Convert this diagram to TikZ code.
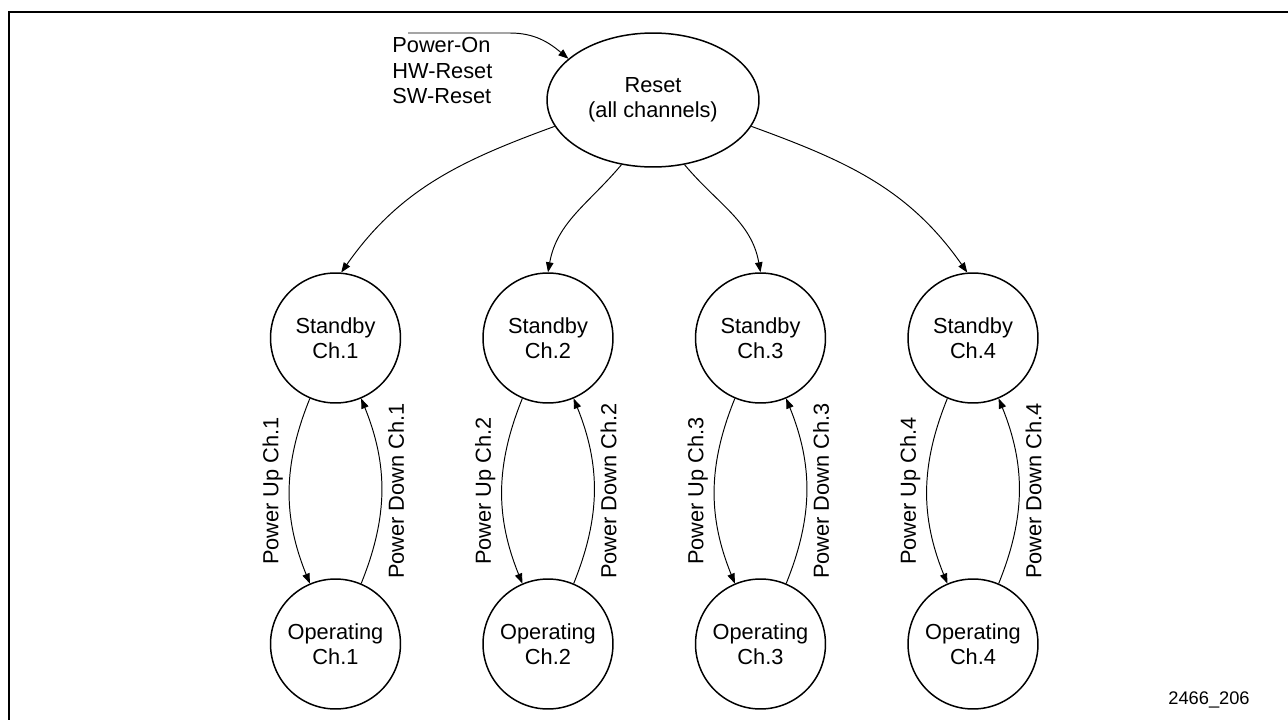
\documentclass[tikz,border=0pt]{standalone}
\usepackage{fontspec}
\setmainfont{Liberation Sans}
\usetikzlibrary{arrows.meta,shapes.geometric,positioning}

\begin{document}
\begin{tikzpicture}[x=0.02cm, y=-0.02cm, font=\fontsize{12.4}{14.5}\selectfont,
    state/.style={circle, draw, line width=0.85pt, minimum size=2.6cm, inner sep=0pt, align=center},
    trans/.style={-{Triangle[length=0.2cm, width=0.15cm]}, line width=0.55pt},
    lbl/.style={rotate=90, inner sep=3.5pt}]

    \useasboundingbox (0,0) rectangle (1288,720);
    \draw[line width=1.3pt] (9,720) -- (9,12) -- (1288,12);

    \node[ellipse, draw, line width=0.85pt, minimum width=4.24cm, minimum height=2.68cm, inner sep=0pt, align=center] (reset) at (653,100) {Reset\\(all channels)};

    \node[state] (stby1) at (335.5,338) {Standby\\Ch.1};
    \node[state] (stby2) at (548,338)   {Standby\\Ch.2};
    \node[state] (stby3) at (760.5,338) {Standby\\Ch.3};
    \node[state] (stby4) at (973,338)   {Standby\\Ch.4};

    \node[state] (oper1) at (335.5,644) {Operating\\Ch.1};
    \node[state] (oper2) at (548,644)   {Operating\\Ch.2};
    \node[state] (oper3) at (760.5,644) {Operating\\Ch.3};
    \node[state] (oper4) at (973,644)   {Operating\\Ch.4};

    % reset sources
    \node[align=left, anchor=north west, inner sep=0pt] (src) at (392,37) {Power-On\\HW-Reset\\SW-Reset};
    \coordinate (pwr) at (408,33);
    \coordinate (pwrbend) at (510,33);
    \draw[trans] (pwr) -- (pwrbend) to[out=0, in=140] (reset.154);

    % reset to standby
    \draw[trans] (reset.195) to[out=200, in=55]  (stby1.85);
    \draw[trans] (reset.244) to[out=230, in=80]  (stby2.90);
    \draw[trans] (reset.296) to[out=310, in=100] (stby3.90);
    \draw[trans] (reset.345) to[out=340, in=125] (stby4.95);

    % power up / power down
    \draw[trans] (stby1.247) to[bend right=22] node[lbl, above] {Power Up Ch.1} (oper1.113);
    \draw[trans] (oper1.67) to[bend right=22] node[lbl, below] {Power Down Ch.1} (stby1.293);

    \draw[trans] (stby2.247) to[bend right=22] node[lbl, above] {Power Up Ch.2} (oper2.113);
    \draw[trans] (oper2.67) to[bend right=22] node[lbl, below] {Power Down Ch.2} (stby2.293);

    \draw[trans] (stby3.247) to[bend right=22] node[lbl, above] {Power Up Ch.3} (oper3.113);
    \draw[trans] (oper3.67) to[bend right=22] node[lbl, below] {Power Down Ch.3} (stby3.293);

    \draw[trans] (stby4.247) to[bend right=22] node[lbl, above] {Power Up Ch.4} (oper4.113);
    \draw[trans] (oper4.67) to[bend right=22] node[lbl, below] {Power Down Ch.4} (stby4.293);

    \node[font=\fontsize{10.4}{12}\selectfont] (fignum) at (1209,700) {2466\_206};
\end{tikzpicture}
\end{document}
